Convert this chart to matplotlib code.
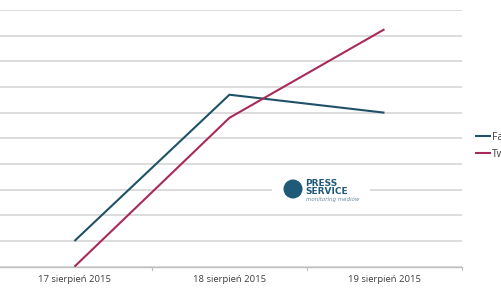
import matplotlib
matplotlib.use("Agg")
import matplotlib.pyplot as plt
from matplotlib.patches import Ellipse, Rectangle

categories = ["17 sierpień 2015", "18 sierpień 2015", "19 sierpień 2015"]
facebook = [1.0, 6.7, 6.0]
twitter = [0.0, 5.8, 9.25]
series_names = ["Facebook", "Twitter"]
colors = ["#1f5266", "#a82a5c"]

fig = plt.figure(figsize=(5.01, 2.91), dpi=100)
W, H = 501, 291
ax = fig.add_axes([0, (H - 266.7) / H, 462 / W, (266.7 - 10) / H])
x = range(len(categories))
ax.plot(x, facebook, color=colors[0], lw=1.5, label=series_names[0], solid_capstyle="butt", zorder=3)
ax.plot(x, twitter, color=colors[1], lw=1.5, label=series_names[1], solid_capstyle="butt", zorder=3)
ax.set_xlim(-0.48, 2.5)
ax.set_ylim(0, 10)
ax.set_yticks(range(0, 11))
ax.yaxis.grid(True, color="#d6d6d6", lw=1.2)
ax.set_axisbelow(True)
ax.tick_params(axis="y", length=0, labelleft=False)
ax.set_xticks(list(x))
ax.set_xticklabels(categories, fontsize=6.8, color="#404040", family="Open Sans")
ax.tick_params(axis="x", length=0, pad=6)
for b in [0.5, 1.5, 2.5]:
    ax.plot([b, b], [0, -0.12], color="#bfbfbf", lw=0.8, clip_on=False)
for s in ["top", "right", "left"]:
    ax.spines[s].set_visible(False)
ax.spines["bottom"].set_color("#bfbfbf")
ax.spines["bottom"].set_linewidth(1.0)

leg = ax.legend(loc="center left", bbox_to_anchor=(471 / 462, 1 - (146 - 10) / 256.7),
                frameon=False, handlelength=1.5, handletextpad=0.1,
                labelspacing=0.55, borderaxespad=0, prop={"family": "Open Sans", "size": 7.5})
for t in leg.get_texts():
    t.set_color("#404040")

# watermark logo
fig.patches.append(Rectangle((272 / W, 1 - 203 / H), 98 / W, 26 / H, transform=fig.transFigure,
                             facecolor="white", edgecolor="none", zorder=2))
fig.patches.append(Ellipse((293 / W, 1 - 189 / H), 19 / W, 19 / H, transform=fig.transFigure,
                           facecolor="#1f5a78", edgecolor="none", zorder=3))
fig.text(305 / W, 1 - 184 / H, "PRESS", fontsize=6.5, fontweight="bold", color="#1f5a78",
         va="center", ha="left", family="DejaVu Sans", zorder=4)
fig.text(305 / W, 1 - 192 / H, "SERVICE", fontsize=6.5, fontweight="bold", color="#1f5a78",
         va="center", ha="left", family="DejaVu Sans", zorder=4)
fig.text(306 / W, 1 - 199 / H, "monitoring mediów", fontsize=4, style="italic", color="#6a8aa0",
         va="center", ha="left", zorder=4)

fig.savefig("out.png", dpi=100)
